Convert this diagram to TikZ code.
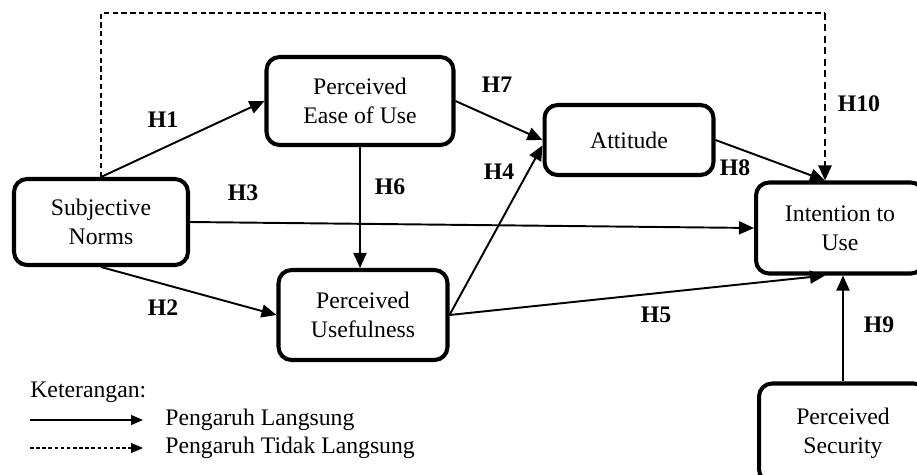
\documentclass[tikz,border=0pt]{standalone}
\usepackage{fontspec}
\setmainfont{Liberation Serif}
\usetikzlibrary{arrows.meta}
\begin{document}
\begin{tikzpicture}[x=0.02cm,y=-0.02cm,
    font=\fontsize{13.5}{16.5}\selectfont,
    box/.style={draw,line width=2.3pt,rounded corners=0.26cm,align=center,inner sep=2pt},
    direct/.style={line width=1.1pt,-{Triangle[length=3mm,width=2.6mm]}},
    indirect/.style={line width=0.6pt,dash pattern=on 3pt off 2pt},
    indirectarr/.style={line width=1.5pt,dash pattern=on 4pt off 2.5pt,-{Triangle[length=3mm,width=2.6mm]}},
    legarr/.style={line width=0.6pt,-{Triangle[length=2.4mm,width=2mm]}},
    hyp/.style={font=\fontsize{13.5}{16.5}\selectfont\bfseries}]
    \useasboundingbox (0,0) rectangle (917,474);
    % constructs
    \node[box,minimum width=3.48cm,minimum height=1.72cm] (sn) at (101,222) {Subjective\\Norms};
    \node[box,minimum width=3.74cm,minimum height=1.76cm] (peou) at (360,101) {Perceived\\Ease of Use};
    \node[box,minimum width=3.38cm,minimum height=1.80cm] (pu) at (363,315) {Perceived\\Usefulness};
    \node[box,minimum width=3.38cm,minimum height=1.40cm] (att) at (629,140) {Attitude};
    \node[box,minimum width=3.36cm,minimum height=1.82cm] (iu) at (840,228) {Intention to\\Use};
    \node[box,minimum width=3.36cm,minimum height=1.98cm] (ps) at (843,433) {Perceived\\Security};
    \coordinate (iutop) at ([xshift=-0.3cm]iu.north);
    \coordinate (iubot) at ([xshift=-0.3cm]iu.south);
    \coordinate (corner) at (iutop |- 0,13);
    % paths
    \draw[direct] (sn.north) -- (peou.west);
    \draw[direct] (sn.south) -- (pu.west);
    \draw[direct] (sn.east) -- (iu.west);
    \draw[direct] (peou.south) -- (peou.south |- pu.north);
    \draw[direct] (peou.east) -- (att.west);
    \draw[direct] (pu.east) -- ([yshift=-3pt]att.west);
    \draw[direct] (att.east) -- (iutop);
    \draw[direct] (pu.east) -- (iubot);
    \draw[direct] (ps.north) -- (ps.north |- iu.south);
    \draw[indirect] (sn.north) |- (corner);
    \draw[indirectarr] (corner) -- (iutop);
    % hypotheses
    \node[hyp] (h1) at (163,120) {H1};
    \node[hyp] (h2) at (163,308) {H2};
    \node[hyp] (h3) at (243,193) {H3};
    \node[hyp] (h4) at (499,172) {H4};
    \node[hyp] (h5) at (656,315) {H5};
    \node[hyp] (h6) at (390,187) {H6};
    \node[hyp] (h7) at (497,85) {H7};
    \node[hyp] (h8) at (735,168) {H8};
    \node[hyp] (h9) at (879,325) {H9};
    \node[hyp] (h10) at (859,104) {H10};
    % legend
    \node[anchor=west,inner sep=0pt] (ket) at (30,392) {Keterangan:};
    \coordinate (la) at (30,420);
    \coordinate (lb) at (143,420);
    \coordinate (lc) at (30,448);
    \coordinate (ld) at (143,448);
    \draw[legarr] (la) -- (lb);
    \draw[legarr,dash pattern=on 2pt off 1.5pt] (lc) -- (ld);
    \node[anchor=west,inner sep=0pt] (leg1) at (165,420) {Pengaruh Langsung};
    \node[anchor=west,inner sep=0pt] (leg2) at (165,448) {Pengaruh Tidak Langsung};
\end{tikzpicture}
\end{document}
